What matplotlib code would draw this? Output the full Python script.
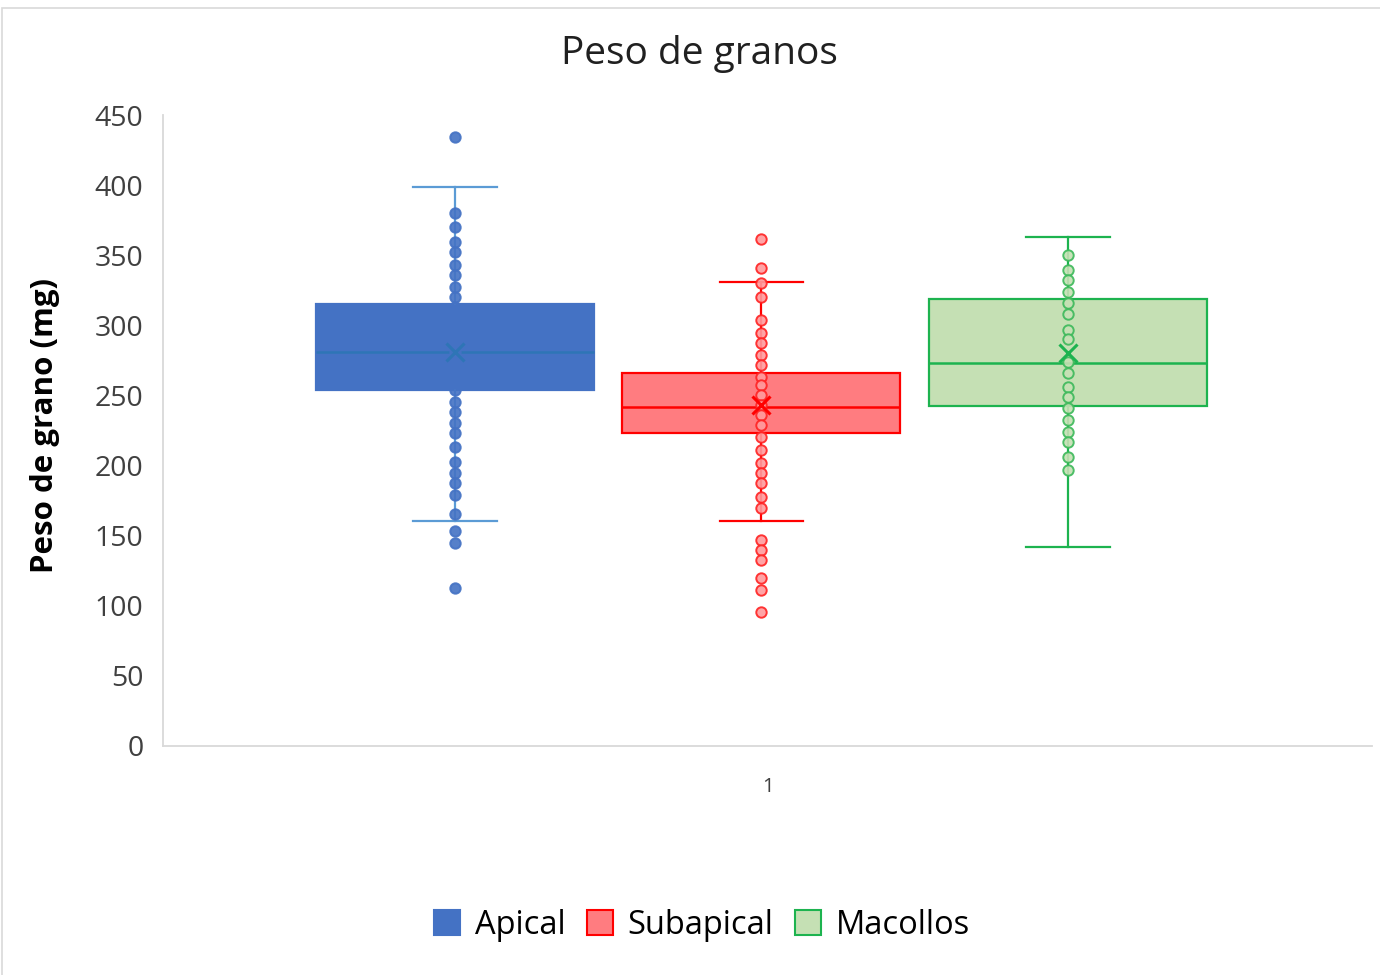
import numpy as np
import matplotlib
matplotlib.use("Agg")
import matplotlib.pyplot as plt
from matplotlib.patches import Patch, Rectangle

# ---- data ----
groups = ["Apical", "Subapical", "Macollos"]

# box statistics: whisker low, Q1, median, Q3, whisker high, mean
whislo = [160.5, 160.5, 141.6]
q1 = [253.9, 223.5, 242.7]
med = [281.0, 242.0, 272.8]
q3 = [315.2, 265.8, 318.8]
whishi = [398.7, 330.7, 363.2]
means = [281.2, 243.0, 280.2]

# individual grain weights (mg)
apical = [434.6, 379.9, 369.9, 359.7, 352.5, 343.0, 335.9, 327.6, 320.4,
          313.3, 306.2, 297.9, 289.5, 281.2, 272.9, 265.8, 259.8, 253.9,
          245.5, 238.4, 230.1, 223.5, 213.0, 202.8, 194.5, 187.4, 179.0,
          165.5, 153.6, 144.6, 112.5]
subapical = [361.3, 340.6, 329.9, 320.4, 303.8, 294.3, 287.2, 278.8, 271.7,
             263.4, 257.5, 250.3, 243.2, 236.1, 229.0, 220.6, 211.1, 201.6,
             194.5, 187.4, 177.9, 169.6, 146.9, 139.8, 132.6, 119.6, 111.3,
             95.8]
macollos = [350.2, 339.5, 332.4, 324.1, 315.8, 307.9, 296.7, 290.1, 274.1,
            265.8, 256.3, 249.2, 240.9, 232.5, 224.2, 217.1, 206.4, 196.8]
points = [apical, subapical, macollos]

yticks = [0, 50, 100, 150, 200, 250, 300, 350, 400, 450]
category = "1"

# ---- styling ----
face = ["#4472C4", "#FF7C80", "#C5E0B4"]
edge = ["#4472C4", "#FF0000", "#1DB34F"]
line = ["#5B9BD5", "#FF0000", "#1DB34F"]
medc = ["#2E75B6", "#FF0000", "#1DB34F"]
dot_face = ["#4472C4", "#FF9A9C", "#C5E0B4"]
dot_edge = ["#4472C4", "#FF2222", "#3CB95A"]

plt.rcParams["font.family"] = ["Open Sans", "DejaVu Sans"]

fig = plt.figure(figsize=(13.8, 9.75), dpi=100)
ax = fig.add_axes([163 / 1380, 1 - 746 / 975, 1209 / 1380, 631 / 975])

positions = 1 + np.array([-1, 0, 1]) * 0.2535 - 0.005
width = 0.23

for i in range(3):
    stats = [dict(whislo=whislo[i], q1=q1[i], med=med[i], q3=q3[i],
                  whishi=whishi[i], mean=means[i], fliers=[], label=groups[i])]
    ax.bxp(stats, positions=[positions[i]], widths=width, patch_artist=True,
           showmeans=False, showfliers=False, manage_ticks=False,
           boxprops=dict(facecolor=face[i], edgecolor=edge[i], linewidth=1.6),
           medianprops=dict(color=medc[i], linewidth=1.8),
           whiskerprops=dict(color=line[i], linewidth=1.6),
           capprops=dict(color=line[i], linewidth=1.6),
           capwidths=width * 0.3)
    ax.plot(np.full(len(points[i]), positions[i]), points[i], "o",
            ms=7.5, mfc=dot_face[i], mec=dot_edge[i], mew=1.4,
            alpha=0.9, zorder=4)
    ax.plot([positions[i]], [means[i]], "x", ms=13, mew=2.2,
            color=medc[i], zorder=5)

ax.set_xlim(0.5, 1.5)
ax.set_ylim(0, 450)
ax.set_yticks(yticks)
ax.set_yticklabels([str(v) for v in yticks])
ax.set_xticks([1])
ax.set_xticklabels([category])
ax.tick_params(axis="y", length=0, pad=14, labelsize=20.5,
               labelcolor="#404040")
ax.tick_params(axis="x", length=0, pad=22, labelsize=14.5,
               labelcolor="#404040")
for s in ["top", "right"]:
    ax.spines[s].set_visible(False)
for s in ["left", "bottom"]:
    ax.spines[s].set_color("#D9D9D9")
    ax.spines[s].set_linewidth(1.3)

ax.set_ylabel("Peso de grano (mg)", fontsize=22.5, fontweight="bold",
              color="#000000")
ax.yaxis.set_label_coords(-0.085, 0.508)

fig.text(699 / 1380, 1 - 54 / 975, "Peso de granos", ha="center",
         va="center", fontsize=28, color="#202020")

handles = [Patch(facecolor=face[i], edgecolor=edge[i], linewidth=1.5)
           for i in range(3)]
fig.legend(handles, groups, loc="center",
           bbox_to_anchor=(702 / 1380, 1 - 925 / 975),
           ncol=3, frameon=False, fontsize=23.5, handlelength=0.8,
           handleheight=0.8, handletextpad=0.45, columnspacing=0.65)

# chart frame
fig.patches.append(Rectangle((2 / 1380, -0.1), 1.2, 1 - 8 / 975 + 0.1,
                             transform=fig.transFigure, fill=False,
                             edgecolor="#D9D9D9", linewidth=1.2))

fig.savefig("out.png", dpi=100)
